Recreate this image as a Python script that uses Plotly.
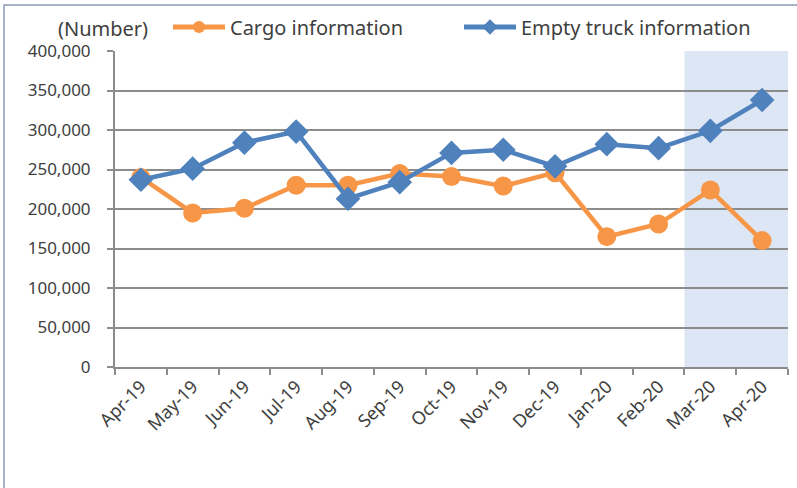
import plotly.graph_objects as go

months = ["Apr-19", "May-19", "Jun-19", "Jul-19", "Aug-19", "Sep-19", "Oct-19",
          "Nov-19", "Dec-19", "Jan-20", "Feb-20", "Mar-20", "Apr-20"]
cargo = [240000, 195000, 201000, 230000, 230000, 245000, 241000,
         229000, 246000, 165000, 181000, 224000, 160000]
empty_truck = [237000, 251000, 284000, 298000, 213000, 234000, 271000,
               275000, 254000, 282000, 277000, 299000, 338000]
y_ticks = [0, 50000, 100000, 150000, 200000, 250000, 300000, 350000, 400000]
shaded_months = ["Mar-20", "Apr-20"]

FONT = "Noto Sans"
W, H = 797, 488
L, R, T, B = 115, 9, 51, 121
pw, ph = W - L - R, H - T - B

def px_x(p):
    return (p - L) / pw

def px_y(p):
    return (H - B - p) / ph

fig = go.Figure()
fig.add_trace(go.Scatter(
    x=months, y=cargo, name="Cargo information", mode="lines+markers",
    line=dict(color="#F79646", width=4.5),
    marker=dict(symbol="circle", size=19, color="#F79646"),
    legend="legend",
))
fig.add_trace(go.Scatter(
    x=months, y=empty_truck, name="Empty truck information", mode="lines+markers",
    line=dict(color="#4F81BD", width=4.5),
    marker=dict(symbol="diamond", size=19, color="#4F81BD"),
    legend="legend2",
))

i0 = months.index(shaded_months[0]) - 0.5
i1 = months.index(shaded_months[-1]) + 0.5
fig.add_shape(type="rect", xref="x", yref="y", x0=i0, x1=i1, y0=0, y1=y_ticks[-1],
              fillcolor="#DCE6F4", line=dict(width=0), layer="below")

# outer chart border (cropped)
fig.add_shape(type="rect", xref="paper", yref="paper",
              x0=px_x(4), x1=px_x(820), y0=px_y(510), y1=px_y(5),
              line=dict(color="#8A9BB4", width=1.5), fillcolor="rgba(0,0,0,0)")

fig.add_annotation(text="(Number)", xref="paper", yref="paper",
                   x=px_x(150), y=px_y(28), xanchor="right", yanchor="middle",
                   showarrow=False, font=dict(family=FONT, size=20, color="#404040"))

legend_common = dict(orientation="h", yanchor="middle", xanchor="left",
                     font=dict(family=FONT, size=20, color="#404040"),
                     itemsizing="constant", bgcolor="rgba(0,0,0,0)", itemwidth=52)

fig.update_layout(
    width=W, height=H,
    margin=dict(l=L, r=R, t=T, b=B, autoexpand=False),
    paper_bgcolor="white", plot_bgcolor="white",
    font=dict(family=FONT, color="#404040"),
    showlegend=True,
    legend=dict(x=px_x(168), y=px_y(27), **legend_common),
    legend2=dict(x=px_x(459), y=px_y(27), **legend_common),
    xaxis=dict(type="category", categoryorder="array", categoryarray=months,
               range=[-0.5, len(months) - 0.5],
               showline=True, linecolor="#8C8C8C", linewidth=2,
               ticks="outside", tickson="boundaries", ticklen=6, tickcolor="#8C8C8C", tickwidth=2,
               tickangle=-45, tickfont=dict(family=FONT, size=18, color="#404040"),
               showgrid=False),
    yaxis=dict(range=[0, y_ticks[-1]], tickvals=y_ticks, tickformat=",d",
               showline=True, linecolor="#8C8C8C", linewidth=2,
               ticks="outside", ticklen=6, tickcolor="#8C8C8C", tickwidth=2,
               ticklabelstandoff=13,
               showgrid=True, gridcolor="#8C8C8C", gridwidth=2,
               zeroline=False,
               tickfont=dict(family=FONT, size=17, color="#404040")),
)

fig.write_html("out.html", config={"displayModeBar": False},
               post_script="document.body.style.margin='0';document.body.style.overflow='hidden';")
